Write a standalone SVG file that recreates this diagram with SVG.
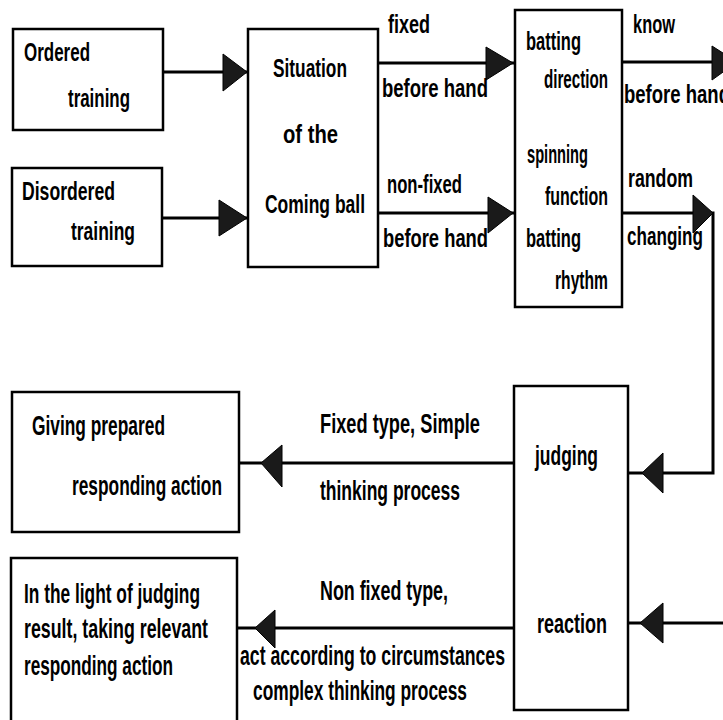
<svg xmlns="http://www.w3.org/2000/svg" width="723" height="720" viewBox="0 0 723 720">
<style>
.bg{fill:#ffffff}
.box{fill:#ffffff;stroke:#000000;stroke-width:2.5}
.ln{fill:none;stroke:#000000;stroke-width:3}
.ah{fill:#1a1a1a;stroke:#000000;stroke-width:1}
text{font-family:"Liberation Sans Narrow","Liberation Sans",Arial,sans-serif;font-weight:bold;font-size:26px;fill:#000000}
.lg{font-size:28px}
</style>
<rect class="bg" x="0" y="0" width="723" height="720"/>
<g id="connectors">
<line class="ln" x1="163" y1="72" x2="248" y2="72"/>
<polygon class="ah" points="223,54 247,72 223,91"/>
<line class="ln" x1="162" y1="218" x2="248" y2="218"/>
<polygon class="ah" points="219,200 247,218 219,236"/>
<line class="ln" x1="378" y1="63" x2="515" y2="63"/>
<polygon class="ah" points="486,47 513,63 486,80"/>
<line class="ln" x1="378" y1="213" x2="515" y2="213"/>
<polygon class="ah" points="488,197 513,213 488,233"/>
<line class="ln" x1="622" y1="62" x2="723" y2="62"/>
<polygon class="ah" points="712,46 737,62 712,80"/>
<polyline class="ln" points="622,213 713,213 713,473 628,473"/>
<polygon class="ah" points="693,195 713,213 693,233"/>
<polygon class="ah" points="663,453 642,473 663,493"/>
<line class="ln" x1="723" y1="623" x2="628" y2="623"/>
<polygon class="ah" points="663,603 640,623 663,643"/>
<line class="ln" x1="514" y1="463" x2="239" y2="463"/>
<polygon class="ah" points="282,445 261,463 282,487"/>
<line class="ln" x1="514" y1="628" x2="237" y2="628"/>
<polygon class="ah" points="275,610 255,628 275,648"/>
</g>
<g id="edge-labels">
<text x="388" y="33" textLength="42" lengthAdjust="spacingAndGlyphs">fixed</text>
<text x="382" y="97" textLength="106" lengthAdjust="spacingAndGlyphs">before hand</text>
<text x="387" y="193" textLength="75" lengthAdjust="spacingAndGlyphs">non-fixed</text>
<text x="383" y="247" textLength="105" lengthAdjust="spacingAndGlyphs">before hand</text>
<text x="633" y="33" textLength="42" lengthAdjust="spacingAndGlyphs">know</text>
<text x="624" y="103" textLength="106" lengthAdjust="spacingAndGlyphs">before hand</text>
<text x="628" y="187" textLength="65" lengthAdjust="spacingAndGlyphs">random</text>
<text x="627" y="245" textLength="76" lengthAdjust="spacingAndGlyphs">changing</text>
<text class="lg" x="320" y="433" textLength="160" lengthAdjust="spacingAndGlyphs">Fixed type,  Simple</text>
<text class="lg" x="320" y="500" textLength="140" lengthAdjust="spacingAndGlyphs">thinking process</text>
<text class="lg" x="320" y="600" textLength="128" lengthAdjust="spacingAndGlyphs">Non fixed type,</text>
<text class="lg" x="240" y="665" textLength="265" lengthAdjust="spacingAndGlyphs">act according to circumstances</text>
<text class="lg" x="253" y="700" textLength="214" lengthAdjust="spacingAndGlyphs">complex thinking process</text>
</g>
<g id="ordered-training">
<rect class="box" x="13" y="29" width="150" height="101"/>
<text x="24" y="61" textLength="66" lengthAdjust="spacingAndGlyphs">Ordered</text>
<text x="68" y="107" textLength="62" lengthAdjust="spacingAndGlyphs">training</text>
</g>
<g id="disordered-training">
<rect class="box" x="12" y="168" width="150" height="98"/>
<text x="22" y="200" textLength="93" lengthAdjust="spacingAndGlyphs">Disordered</text>
<text x="71" y="240" textLength="64" lengthAdjust="spacingAndGlyphs">training</text>
</g>
<g id="situation">
<rect class="box" x="248" y="29" width="130" height="238"/>
<text x="273" y="77" textLength="74" lengthAdjust="spacingAndGlyphs">Situation</text>
<text x="283" y="143" textLength="55" lengthAdjust="spacingAndGlyphs">of the</text>
<text x="265" y="213" textLength="100" lengthAdjust="spacingAndGlyphs">Coming ball</text>
</g>
<g id="batting">
<rect class="box" x="515" y="10" width="107" height="297"/>
<text x="526" y="50" textLength="55" lengthAdjust="spacingAndGlyphs">batting</text>
<text x="544" y="88" textLength="64" lengthAdjust="spacingAndGlyphs">direction</text>
<text x="527" y="163" textLength="61" lengthAdjust="spacingAndGlyphs">spinning</text>
<text x="545" y="205" textLength="63" lengthAdjust="spacingAndGlyphs">function</text>
<text x="526" y="247" textLength="55" lengthAdjust="spacingAndGlyphs">batting</text>
<text x="555" y="289" textLength="53" lengthAdjust="spacingAndGlyphs">rhythm</text>
</g>
<g id="judging-reaction">
<rect class="box" x="514" y="386" width="114" height="324"/>
<text class="lg" x="535" y="465" textLength="63" lengthAdjust="spacingAndGlyphs">judging</text>
<text class="lg" x="537" y="633" textLength="70" lengthAdjust="spacingAndGlyphs">reaction</text>
</g>
<g id="giving-prepared">
<rect class="box" x="12" y="392" width="227" height="140"/>
<text class="lg" x="32" y="435" textLength="133" lengthAdjust="spacingAndGlyphs">Giving prepared</text>
<text class="lg" x="72" y="495" textLength="150" lengthAdjust="spacingAndGlyphs">responding action</text>
</g>
<g id="relevant-action">
<rect class="box" x="11" y="558" width="226" height="170"/>
<text class="lg" x="24" y="603" textLength="176" lengthAdjust="spacingAndGlyphs">In the light of judging</text>
<text class="lg" x="24" y="638" textLength="184" lengthAdjust="spacingAndGlyphs">result, taking relevant</text>
<text class="lg" x="24" y="675" textLength="149" lengthAdjust="spacingAndGlyphs">responding action</text>
</g>
</svg>
